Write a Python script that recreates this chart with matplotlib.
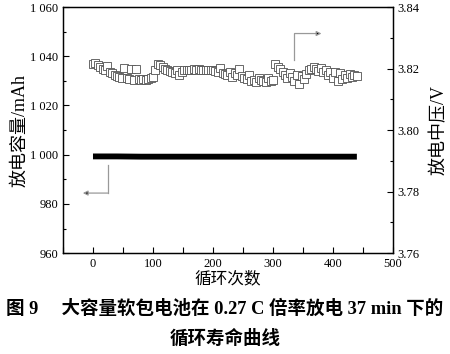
import matplotlib
matplotlib.use('Agg')
import matplotlib.pyplot as plt
from matplotlib.ticker import MultipleLocator, FuncFormatter

plt.rcParams['font.family'] = ['Liberation Serif', 'Noto Sans CJK SC']
plt.rcParams['axes.unicode_minus'] = False

# discharge capacity (left axis) - drawn as a thick band
cap_cycles = [0, 40, 80, 120, 160, 200, 240, 280, 320, 360, 400, 440]
cap_values = [999.3, 999.3, 999.2, 999.2, 999.2, 999.2, 999.2, 999.2, 999.2, 999.2, 999.2, 999.2]

# discharge mid voltage (right axis)
volt_cycles = list(range(0, 441, 4))
volt_values = [
    3.8215, 3.8218, 3.8212, 3.8205, 3.8200, 3.8196, 3.8208, 3.8190, 3.8186, 3.8180,
    3.8176, 3.8172, 3.8168, 3.8202, 3.8170, 3.8166, 3.8198, 3.8164, 3.8200, 3.8167,
    3.8164, 3.8166, 3.8163, 3.8165, 3.8168, 3.8172, 3.8195, 3.8215, 3.8212, 3.8205,
    3.8200, 3.8196, 3.8192, 3.8190, 3.8185, 3.8196, 3.8180, 3.8190, 3.8195, 3.8196,
    3.8197, 3.8197, 3.8198, 3.8197, 3.8198, 3.8197, 3.8196, 3.8196, 3.8195, 3.8196,
    3.8194, 3.8193, 3.8190, 3.8203, 3.8186, 3.8182, 3.8178, 3.8190, 3.8172, 3.8185,
    3.8178, 3.8200, 3.8175, 3.8170, 3.8166, 3.8180, 3.8160, 3.8163, 3.8158, 3.8170,
    3.8162, 3.8160, 3.8155, 3.8168, 3.8160, 3.8162, 3.8215, 3.8205, 3.8200, 3.8190,
    3.8178, 3.8168, 3.8185, 3.8172, 3.8160, 3.8180, 3.8150, 3.8176, 3.8165, 3.8182,
    3.8195, 3.8200, 3.8206, 3.8198, 3.8192, 3.8203, 3.8188, 3.8196, 3.8180, 3.8188,
    3.8170, 3.8190, 3.8160, 3.8185, 3.8165, 3.8178, 3.8168, 3.8182, 3.8172, 3.8178,
    3.8175,
]

fig = plt.figure(figsize=(4.5, 3.54), dpi=100)
ax = fig.add_axes([0.14, 0.285, 0.733, 0.695])
ax2 = ax.twinx()

ax.plot(cap_cycles, cap_values, color='black', lw=4.2, solid_capstyle='butt')
ax2.plot(volt_cycles, volt_values, ls='none', marker='s', ms=5.2,
         mfc='white', mec='#505050', mew=0.6)

ax.set_xlim(-50, 500)
ax.set_ylim(960, 1060)
ax2.set_ylim(3.76, 3.84)

ax.xaxis.set_major_locator(MultipleLocator(100))
ax.xaxis.set_minor_locator(MultipleLocator(50))
ax.yaxis.set_major_locator(MultipleLocator(20))
ax.yaxis.set_minor_locator(MultipleLocator(10))
ax2.yaxis.set_major_locator(MultipleLocator(0.02))
ax2.yaxis.set_minor_locator(MultipleLocator(0.01))
ax.yaxis.set_major_formatter(FuncFormatter(lambda v, p: f"{int(v):,}".replace(',', ' ')))
ax2.yaxis.set_major_formatter(FuncFormatter(lambda v, p: f"{v:.2f}"))

for a in (ax, ax2):
    a.tick_params(which='both', direction='in', labelsize=9, width=0.8)
    a.tick_params(which='major', length=4)
    a.tick_params(which='minor', length=2.5)
    a.tick_params(axis='x', which='minor', length=4)
    for s in a.spines.values():
        s.set_linewidth(0.9)

ax.set_xlabel('循环次数', fontsize=12, labelpad=1)
ax.set_ylabel('放电容量/mAh', fontsize=13, labelpad=1)
ax2.set_ylabel('放电中压/V', fontsize=13, labelpad=8)

# pointer arrows
ax.plot([24.5, 24.5], [995.8, 984.4], color='#999999', lw=0.9)
ax.annotate('', xy=(-17, 984.4), xytext=(24.5, 984.4),
            arrowprops=dict(arrowstyle='-|>', color='#999999', lw=0.9,
                            mutation_scale=7, fc='black', ec='#999999', shrinkA=0, shrinkB=0))
ax2.plot([336, 336], [3.8228, 3.8314], color='#999999', lw=0.9)
ax2.annotate('', xy=(381, 3.8314), xytext=(336, 3.8314),
             arrowprops=dict(arrowstyle='-|>', color='#999999', lw=0.9,
                             mutation_scale=7, fc='black', ec='#999999', shrinkA=0, shrinkB=0))

fig.text(0.5, 1 - 309 / 354, '图 9　 大容量软包电池在 0.27 C 倍率放电 37 min 下的',
         ha='center', va='center', fontsize=13.3, fontweight='bold')
fig.text(0.5, 1 - 339 / 354, '循环寿命曲线',
         ha='center', va='center', fontsize=13.3, fontweight='bold')

fig.savefig('out.png', dpi=100)
